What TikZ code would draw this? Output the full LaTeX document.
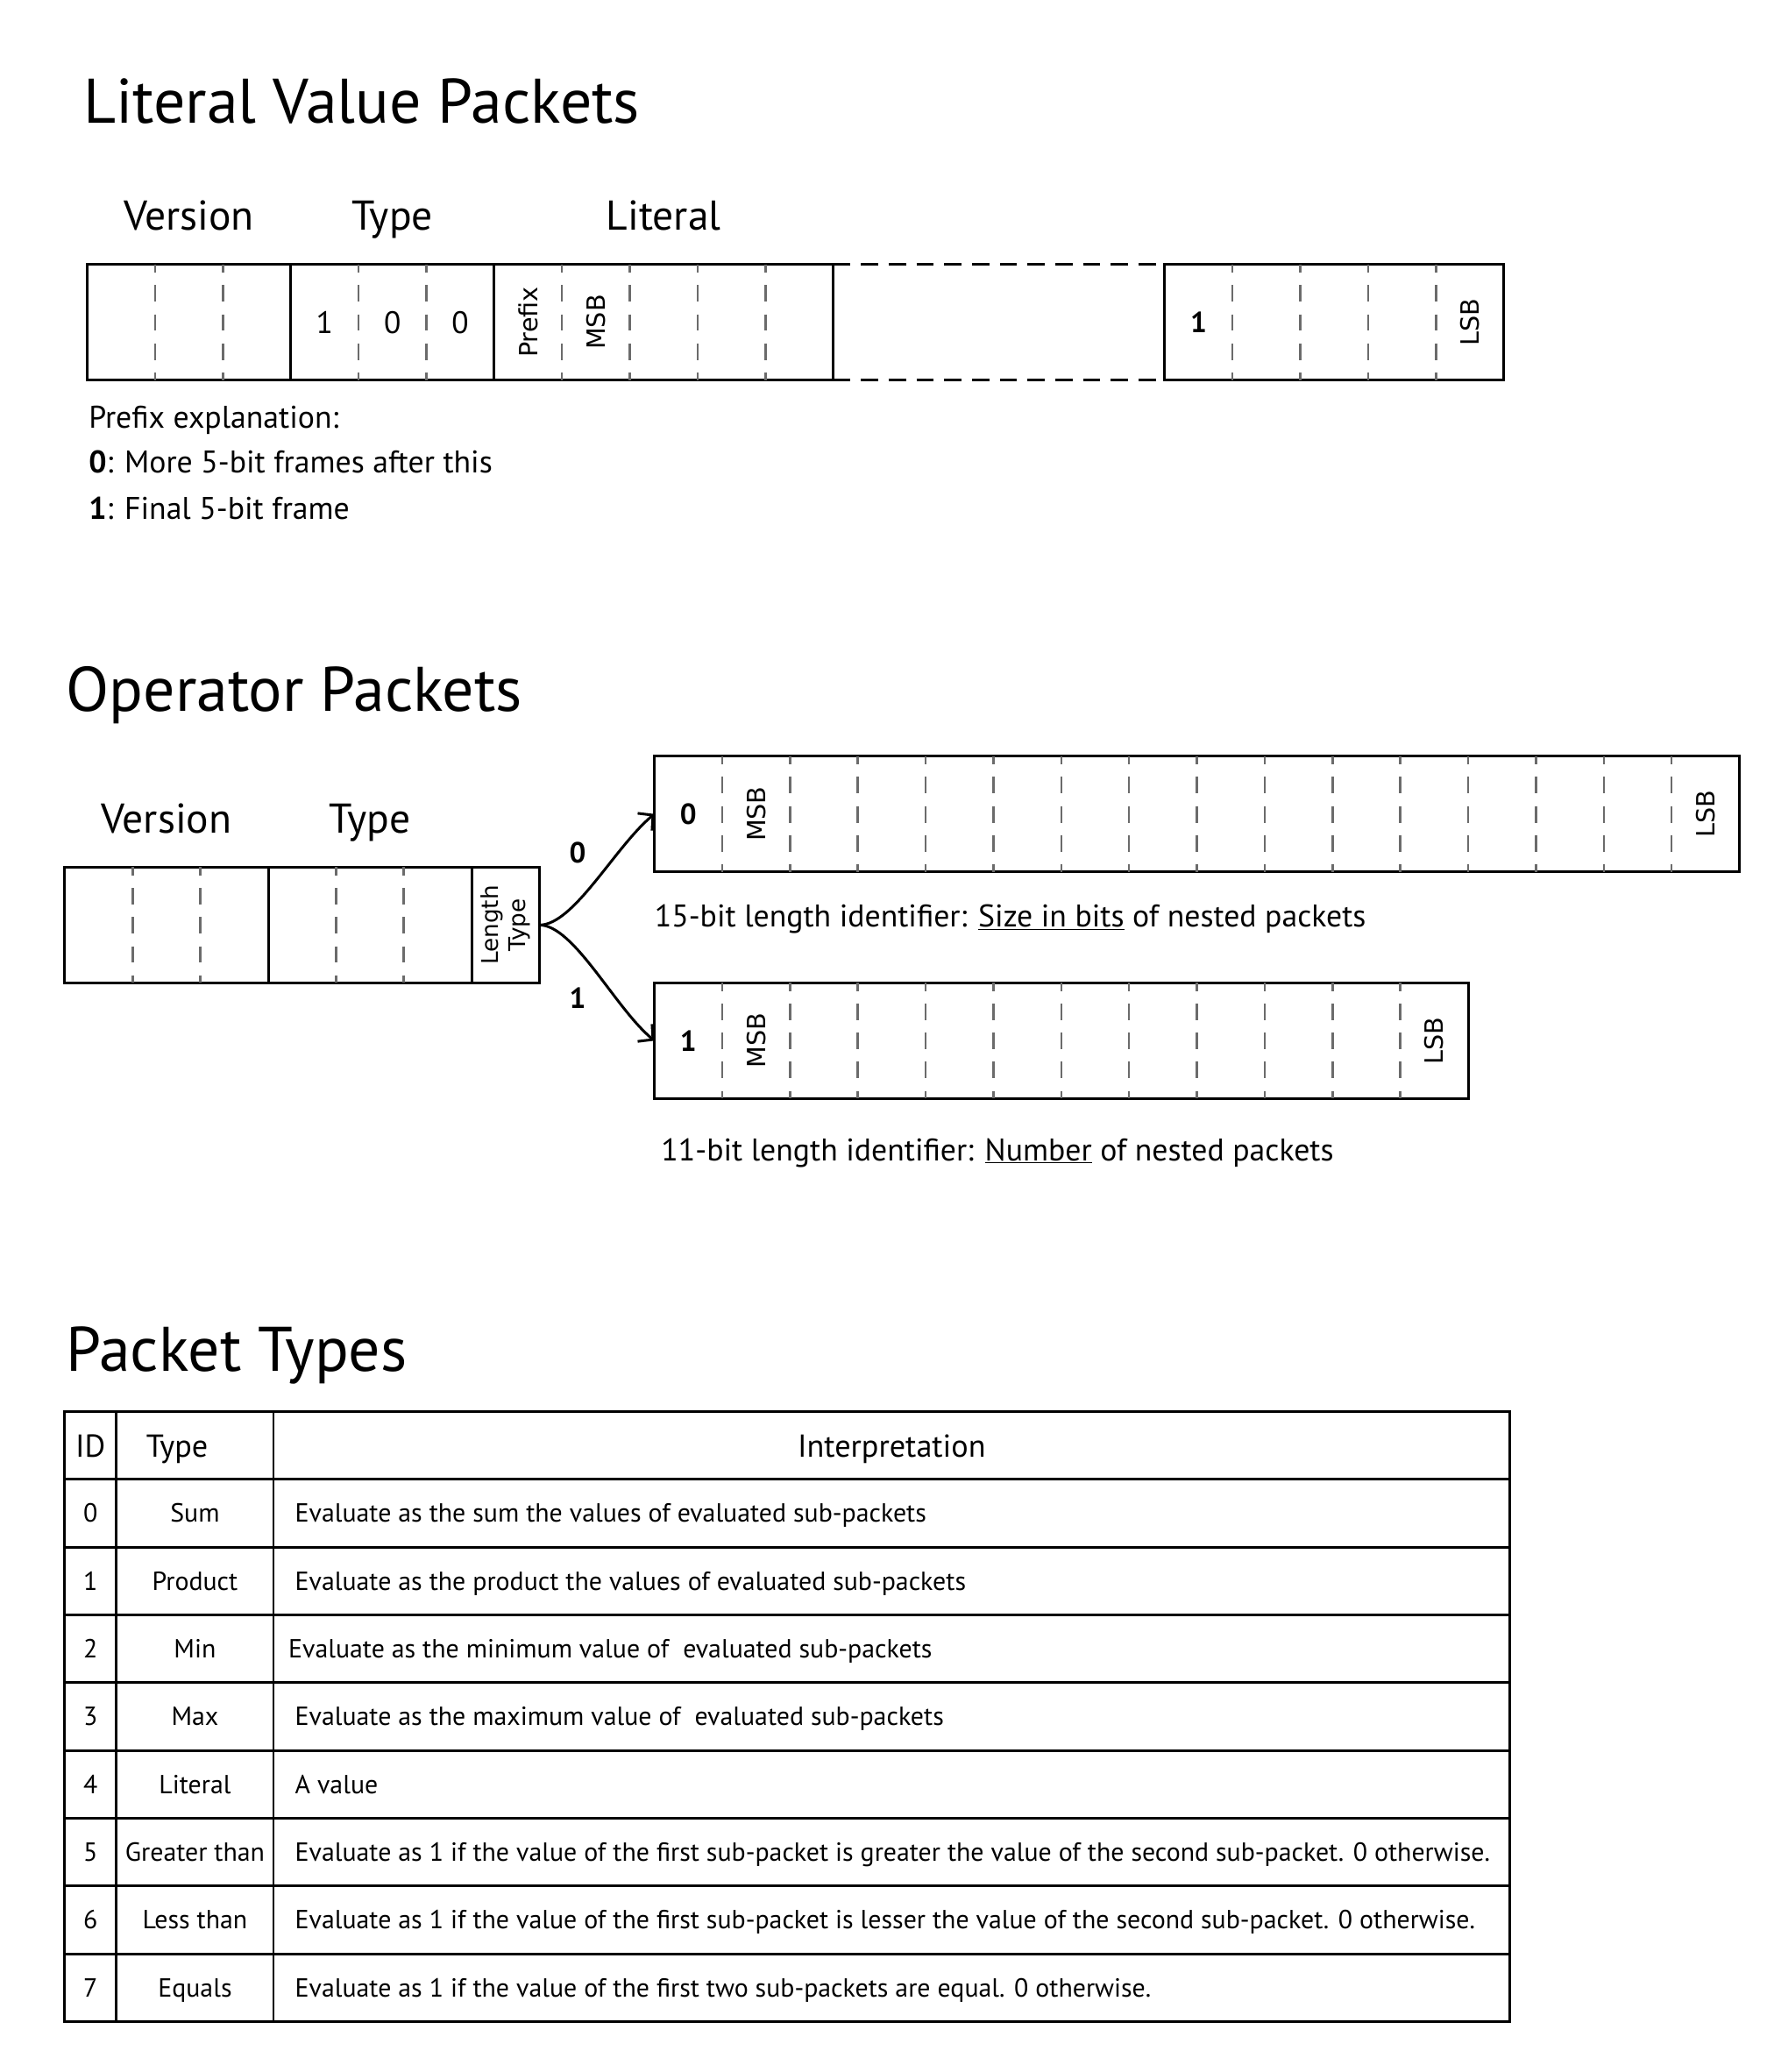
\documentclass[tikz,border=0pt]{standalone}
\usepackage{fontspec}
\setmainfont{PT Sans}
\newfontfamily\rotfont{DejaVu Sans}
\usetikzlibrary{arrows.meta,positioning}

\tikzset{
	heading/.style={anchor=base west, inner sep=0, font=\fontsize{47.6}{50}\selectfont},
	fieldname/.style={anchor=base, inner sep=0, font=\fontsize{31.5}{33}\selectfont},
	frame/.style={draw, line width=2pt, anchor=north west, inner sep=0, outer sep=0, minimum height=87.5pt},
	bitsep/.style={draw=black!58, line width=1.7pt, dash pattern=on 12.5pt off 9.5pt, dash phase=6.25pt},
	gapline/.style={line width=2pt, dash pattern=on 13pt off 8pt},
	bitval/.style={inner sep=0, font=\fontsize{23.5}{24}\selectfont},
	bitflag/.style={inner sep=0, font=\fontsize{22}{24}\selectfont\bfseries},
	rotlabel/.style={inner sep=0, rotate=90, font=\rotfont\fontsize{19}{20}\selectfont},
	note/.style={anchor=base west, inner sep=0, font=\fontsize{23.7}{25}\selectfont},
	branch/.style={line width=2pt, -{Straight Barb[length=8pt,width=17pt]}},
	cell/.style={anchor=base, inner sep=0, font=\fontsize{19.8}{21}\selectfont},
	rule/.style={line width=2pt}
}

\begin{document}
\begin{tikzpicture}[x=1pt, y=-1pt]

	\useasboundingbox (0,0) rectangle (1336,1567.4);

	% Literal value packets
	\node[heading] (littitle) at (63,93) {Literal Value Packets};

	\node[frame, minimum width=153.9pt] (litver) at (66,200) {};
	\node[frame, minimum width=153.9pt] (littype) at (litver.north east) {};
	\node[frame, minimum width=256.5pt] (litfirst) at (littype.north east) {};
	\node[frame, minimum width=256.5pt] (litlast) at (881,200) {};
	\draw[gapline] (litfirst.north east) -- (litlast.north west);
	\draw[gapline] (litfirst.south east) -- (litlast.south west);

	\foreach \k in {1,2} {
		\draw[bitsep] ([xshift=\k*51.3pt]litver.north west) -- ([xshift=\k*51.3pt]litver.south west);
		\draw[bitsep] ([xshift=\k*51.3pt]littype.north west) -- ([xshift=\k*51.3pt]littype.south west);
	}
	\foreach \k in {1,...,4} {
		\draw[bitsep] ([xshift=\k*51.3pt]litfirst.north west) -- ([xshift=\k*51.3pt]litfirst.south west);
		\draw[bitsep] ([xshift=\k*51.3pt]litlast.north west) -- ([xshift=\k*51.3pt]litlast.south west);
	}

	\node[fieldname] (litverlbl) at ([yshift=26pt]litver.north) {Version};
	\node[fieldname] (littypelbl) at ([yshift=26pt]littype.north) {Type};
	\node[fieldname] (litfirstlbl) at ([yshift=26pt]litfirst.north) {Literal};

	\foreach \v [count=\k] in {1,0,0}
		\node[bitval] (typebit\k) at ([xshift=(\k-0.5)*51.3pt]littype.west) {\v};
	\node[rotlabel] (prefix) at ([xshift=25.65pt]litfirst.west) {Prefix};
	\node[rotlabel] (litmsb) at ([xshift=76.95pt]litfirst.west) {MSB};
	\node[bitflag] (lastflag) at ([xshift=25.65pt]litlast.west) {1};
	\node[rotlabel] (litlsb) at ([xshift=230.85pt]litlast.west) {LSB};

	\node[note] (prefixnote) at (67,324) {Prefix explanation:};
	\node[note] (prefixzero) at (67,358) {\textbf{0}: More 5-bit frames after this};
	\node[note] (prefixone) at (67,393) {\textbf{1}: Final 5-bit frame};

	% Operator packets
	\node[heading] (optitle) at (50,538) {Operator Packets};

	\node[frame, minimum width=153.9pt] (opver) at (49,656) {};
	\node[frame, minimum width=153.9pt] (optype) at (opver.north east) {};
	\node[frame, minimum width=51.3pt] (ltype) at (optype.north east) {};
	\foreach \k in {1,2} {
		\draw[bitsep] ([xshift=\k*51.3pt]opver.north west) -- ([xshift=\k*51.3pt]opver.south west);
		\draw[bitsep] ([xshift=\k*51.3pt]optype.north west) -- ([xshift=\k*51.3pt]optype.south west);
	}
	\node[fieldname] (opverlbl) at ([yshift=26pt]opver.north) {Version};
	\node[fieldname] (optypelbl) at ([yshift=26pt]optype.north) {Type};
	\node[rotlabel, align=center, font=\rotfont\fontsize{17.4}{21}\selectfont] (ltypelbl) at (ltype.center) {Length\\Type};

	\node[frame, minimum width=820.8pt] (lenA) at (495,572) {};
	\node[frame, minimum width=615.6pt] (lenB) at (495,743.5) {};
	\foreach \k in {1,...,15}
		\draw[bitsep] ([xshift=\k*51.3pt]lenA.north west) -- ([xshift=\k*51.3pt]lenA.south west);
	\foreach \k in {1,...,11}
		\draw[bitsep] ([xshift=\k*51.3pt]lenB.north west) -- ([xshift=\k*51.3pt]lenB.south west);

	\node[bitflag] (lenAflag) at ([xshift=25.65pt]lenA.west) {0};
	\node[rotlabel] (lenAmsb) at ([xshift=76.95pt]lenA.west) {MSB};
	\node[rotlabel] (lenAlsb) at ([xshift=-25.65pt]lenA.east) {LSB};
	\node[bitflag] (lenBflag) at ([xshift=25.65pt]lenB.west) {1};
	\node[rotlabel] (lenBmsb) at ([xshift=76.95pt]lenB.west) {MSB};
	\node[rotlabel] (lenBlsb) at ([xshift=-25.65pt]lenB.east) {LSB};

	\draw[branch] (ltype.east) .. controls +(26,0) and +(-30,25) .. (lenA.west);
	\draw[branch] (ltype.east) .. controls +(26,0) and +(-30,-25) .. (lenB.west);
	\node[bitflag] (branchzero) at (437,645) {0};
	\node[bitflag] (branchone) at (437,755) {1};

	\node[note] (lenAnote) at (495,701) {15-bit length identifier: \underline{Size in bits} of nested packets};
	\node[note] (lenBnote) at (500,878) {11-bit length identifier: \underline{Number} of nested packets};

	% Packet types table
	\node[heading] (pttitle) at (50,1037) {Packet Types};

	\draw[rule] (49,1068) rectangle (1142,1529.4);
	\draw[rule] (88,1068) -- (88,1529.4);
	\draw[line width=1.6pt] (207,1068) -- (207,1529.4);
	\foreach \r in {0,...,7}
		\draw[rule] (49,1119+\r*51.3) -- (1142,1119+\r*51.3);

	\node[cell, font=\fontsize{24}{26}\selectfont] (hid) at (68.5,1102) {ID};
	\node[cell, font=\fontsize{24}{26}\selectfont] (htype) at (134,1102) {Type};
	\node[cell, font=\fontsize{24}{26}\selectfont] (hinterp) at (674.5,1102) {Interpretation};

	\foreach \id/\kind/\tx/\what in {
		0/Sum/223/{Evaluate as the sum the values of evaluated sub-packets},
		1/Product/223/{Evaluate as the product the values of evaluated sub-packets},
		2/Min/218/{Evaluate as the minimum value of \ evaluated sub-packets},
		3/Max/223/{Evaluate as the maximum value of \ evaluated sub-packets},
		4/Literal/223/{A value},
		5/Greater than/223/{Evaluate as 1 if the value of the first sub-packet is greater the value of the second sub-packet. 0 otherwise.},
		6/Less than/223/{Evaluate as 1 if the value of the first sub-packet is lesser the value of the second sub-packet. 0 otherwise.},
		7/Equals/223/{Evaluate as 1 if the value of the first two sub-packets are equal. 0 otherwise.}} {
		\node[cell] (id\id) at (68.5,1151.5+\id*51.3) {\id};
		\node[cell] (kind\id) at (147.5,1151.5+\id*51.3) {\kind};
		\node[cell, anchor=base west] (what\id) at (\tx,1151.5+\id*51.3) {\what};
	}

\end{tikzpicture}
\end{document}
